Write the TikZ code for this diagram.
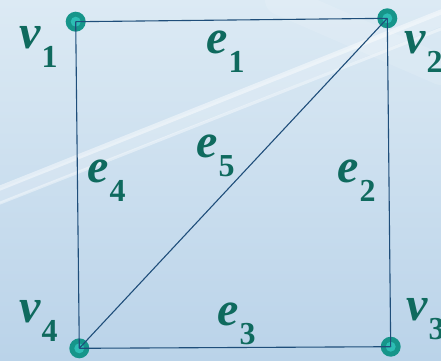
\documentclass[tikz,border=0pt]{standalone}
\usepackage{fontspec}
\setmainfont{Liberation Serif}
\definecolor{lbl}{HTML}{0F6A5E}
\definecolor{edgec}{HTML}{1F4E7A}
\definecolor{dotout}{HTML}{16958A}
\definecolor{dotin}{HTML}{2DBDB4}
\definecolor{bgtop}{HTML}{DCEAF4}
\definecolor{bgbot}{HTML}{BAD3E9}
\tikzset{
  vert/.style={circle, fill=dotout, minimum size=20pt, inner sep=0pt,
    path picture={\fill[dotin] (path picture bounding box.center) circle (5pt);}},
  lab/.style={anchor=base west, inner sep=0pt, text=lbl,
    font=\fontsize{48}{50}\selectfont\bfseries\itshape},
  edgeline/.style={draw=edgec, line width=1.1pt},
  streak/.style={draw=white, line cap=round},
}
\newcommand\sbx[1]{\kern1pt\raisebox{-19pt}{\fontsize{32}{34}\selectfont\upshape #1}}
\begin{document}
\begin{tikzpicture}[x=1pt,y=-1pt]
\useasboundingbox (0,0) rectangle (441,360);
\shade[top color=bgtop, bottom color=bgbot] (0,0) rectangle (441,360);
% background streaks
\draw[streak, line width=14pt, opacity=0.18] (-10,200) -- (451,15);
\draw[streak, line width=5pt, opacity=0.45] (-10,192) -- (451,8);
\draw[streak, line width=3pt, opacity=0.4] (-10,207) -- (451,25);
\draw[streak, line width=30pt, opacity=0.12] (280,0) -- (441,70);
% vertices
\node[vert] (v1) at (75.7,21.7) {};
\node[vert] (v2) at (387.3,18.3) {};
\node[vert] (v3) at (390.7,346.7) {};
\node[vert] (v4) at (79.3,348.3) {};
% edges
\draw[edgeline] (v1.center) -- (v2.center);
\draw[edgeline] (v2.center) -- (v3.center);
\draw[edgeline] (v3.center) -- (v4.center);
\draw[edgeline] (v4.center) -- (v1.center);
\draw[edgeline] (v4.center) -- (v2.center);
% labels
\node[lab] (lv1) at (19,48) {v\sbx{1}};
\node[lab] (lv2) at (404,53) {v\sbx{2}};
\node[lab] (lv3) at (406,320) {v\sbx{3}};
\node[lab] (lv4) at (19,322) {v\sbx{4}};
\node[lab] (le1) at (206,53) {e\sbx{1}};
\node[lab] (le2) at (337,182) {e\sbx{2}};
\node[lab] (le3) at (217,325) {e\sbx{3}};
\node[lab] (le4) at (87,182) {e\sbx{4}};
\node[lab] (le5) at (196,157) {e\sbx{5}};
\end{tikzpicture}
\end{document}
